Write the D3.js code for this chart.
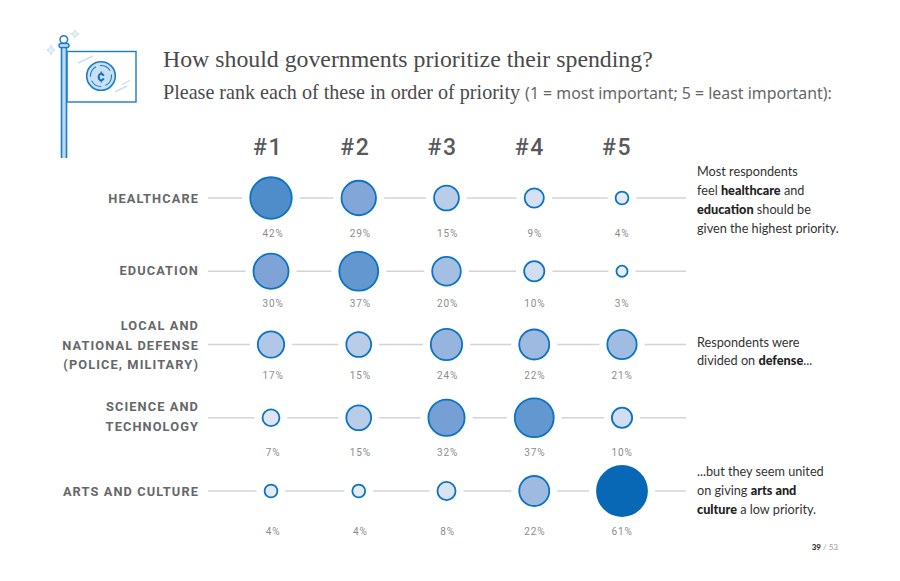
<!DOCTYPE html>
<html lang="en">
  <head>
    <meta charset="UTF-8" />
    <title>How should governments prioritize their spending?</title>
    <script src="https://d3js.org/d3.v7.min.js"></script>
    <style>
      body {
        margin: 0;
        background: #fff;
      }
      svg {
        display: block;
      }
      .title {
        font-family: 'Liberation Serif', serif;
        fill: #4a4a4a;
      }
      .note {
        font-family: Lato, sans-serif;
      }
      .din {
        font-family: Roboto, sans-serif;
      }
    </style>
  </head>
  <body>
    <svg id="chart" width="900" height="581"></svg>
    <script>
      const ranks = ['#1', '#2', '#3', '#4', '#5'];
      const categories = [
        'Healthcare',
        'Education',
        'Defense',
        'Science',
        'Arts'
      ];
      const categoryLabels = [
        ['HEALTHCARE'],
        ['EDUCATION'],
        ['LOCAL AND', 'NATIONAL DEFENSE', '(POLICE, MILITARY)'],
        ['SCIENCE AND', 'TECHNOLOGY'],
        ['ARTS AND CULTURE']
      ];
      const healthcare = [42, 29, 15, 9, 4];
      const education = [30, 37, 20, 10, 3];
      const defense = [17, 15, 24, 22, 21];
      const science = [7, 15, 32, 37, 10];
      const arts = [4, 4, 8, 22, 61];
      const seriesValues = [healthcare, education, defense, science, arts];

      // [text, bold] runs per line
      const notes = [
        {
          row: 'Healthcare',
          dy: -22,
          lines: [
            [['Most respondents', false]],
            [['feel ', false], ['healthcare', true], [' and', false]],
            [['education', true], [' should be', false]],
            [['given the highest priority.', false]]
          ]
        },
        {
          row: 'Defense',
          dy: 2,
          lines: [
            [['Respondents were', false]],
            [['divided on ', false], ['defense', true], ['...', false]]
          ]
        },
        {
          row: 'Arts',
          dy: -15,
          lines: [
            [['...but they seem united', false]],
            [['on giving ', false], ['arts and', true]],
            [['culture', true], [' a low priority.', false]]
          ]
        }
      ];

      const svg = d3.select('#chart');

      const x = d3.scalePoint().domain(ranks).range([271, 622]);
      const headX = d3.scalePoint().domain(ranks).range([268, 617]);
      const pctX = d3.scalePoint().domain(ranks).range([273, 622]);
      const y = d3.scalePoint().domain(categories).range([198, 491]);
      const r = d3.scaleSqrt().domain([0, 61]).range([0, 25]);
      const fill = d3
        .scaleLinear()
        .domain([3, 8, 15, 29, 42, 61])
        .range(['#e8edf7', '#dbe3f3', '#b9cde9', '#82a6d8', '#4f8dca', '#0868b6']);

      // percent labels do not sit at a fixed distance from the row
      const pctY = [233, 303, 375, 452, 531];
      const catShift = [0, -1, 0, -1.5, 0];

      // Titles
      svg
        .append('text')
        .attr('class', 'title')
        .attr('x', 163)
        .attr('y', 67)
        .attr('font-size', 23.8)
        .text('How should governments prioritize their spending?');

      const sub = svg
        .append('text')
        .attr('class', 'title')
        .attr('x', 163)
        .attr('y', 99)
        .attr('font-size', 20.1);
      sub.append('tspan').text('Please rank each of these in order of priority ');
      sub
        .append('tspan')
        .attr('font-family', "'Noto Sans', sans-serif")
        .attr('font-size', 15.9)
        .attr('fill', '#666')
        .text('(1 = most important; 5 = least important):');

      // Column heads
      svg
        .append('g')
        .selectAll('text')
        .data(ranks)
        .join('text')
        .attr('class', 'din')
        .attr('x', (d) => headX(d))
        .attr('y', 155)
        .attr('text-anchor', 'middle')
        .attr('font-size', 23)
        .attr('font-weight', 500)
        .attr('letter-spacing', 1.5)
        .attr('fill', '#58595b')
        .text((d) => d);

      // Rows
      const rows = svg
        .append('g')
        .selectAll('g')
        .data(categories)
        .join('g')
        .attr('transform', (d) => `translate(0,${y(d)})`);

      rows
        .append('line')
        .attr('x1', 208)
        .attr('x2', 686)
        .attr('stroke', '#d4d4d4')
        .attr('stroke-width', 1.5);

      rows.each(function (cat, i) {
        const g = d3.select(this);
        const lines = categoryLabels[i];
        g.selectAll('.cat')
          .data(lines)
          .join('text')
          .attr('class', 'din cat')
          .attr('x', 199)
          .attr('y', (d, j) => 5 + catShift[i] + (j - (lines.length - 1) / 2) * 19.7)
          .attr('text-anchor', 'end')
          .attr('font-size', 12.8)
          .attr('font-weight', 700)
          .attr('letter-spacing', 1.1)
          .attr('fill', '#666769')
          .text((d) => d);

        const cells = g
          .selectAll('.cell')
          .data(seriesValues[i])
          .join('g')
          .attr('class', 'cell')
          .attr('transform', (d, j) => `translate(${x(ranks[j])},0)`);

        // white gap that breaks the row line around each bubble
        cells
          .append('circle')
          .attr('r', (d) => r(d) + 8)
          .attr('fill', '#fff');
        cells
          .append('circle')
          .attr('r', (d) => r(d))
          .attr('fill', (d) => fill(d))
          .attr('stroke', (d) => (d > 50 ? fill(d) : '#0c73c2'))
          .attr('stroke-width', 1.8);

        cells
          .append('text')
          .attr('class', 'din')
          .attr('x', (d, j) => pctX(ranks[j]) - x(ranks[j]))
          .attr('y', pctY[i] - y(cat) + 4)
          .attr('text-anchor', 'middle')
          .attr('font-size', 10)
          .attr('letter-spacing', 0.9)
          .attr('fill', '#8c8c8c')
          .text((d) => d + '%');
      });

      // Side notes
      notes.forEach((note) => {
        const t = svg
          .append('text')
          .attr('class', 'note')
          .attr('font-size', 12.7)
          .attr('fill', '#333');
        note.lines.forEach((runs, i) => {
          runs.forEach((run, k) => {
            const span = t
              .append('tspan')
              .attr('font-weight', run[1] ? 900 : 400)
              .attr('fill', run[1] ? '#222' : '#333')
              .text(run[0]);
            if (k === 0) {
              span.attr('x', 697).attr('y', y(note.row) + note.dy + i * 18.9);
            }
          });
        });
      });

      // Page number
      const page = svg
        .append('text')
        .attr('class', 'note')
        .attr('x', 838)
        .attr('y', 550)
        .attr('text-anchor', 'end')
        .attr('font-size', 8);
      page.append('tspan').attr('font-weight', 900).attr('fill', '#333').text('39');
      page.append('tspan').attr('fill', '#999').text(' / 53');

      // Flag icon
      const blue = '#1b7cc8';
      const pale = '#c9e0f3';
      const icon = svg.append('g').attr('fill', 'none').attr('stroke', blue);
      icon
        .append('rect')
        .attr('x', 67)
        .attr('y', 51.5)
        .attr('width', 69)
        .attr('height', 50.5)
        .attr('fill', '#fff')
        .attr('stroke-width', 1.4);
      icon
        .append('rect')
        .attr('x', 61.5)
        .attr('y', 47)
        .attr('width', 5)
        .attr('height', 111)
        .attr('fill', '#bcd9f0')
        .attr('stroke', 'none');
      icon
        .append('path')
        .attr('d', 'M61.5 47V158M66.5 47V158')
        .attr('stroke-width', 1.6);
      icon
        .append('rect')
        .attr('x', 59)
        .attr('y', 43.5)
        .attr('width', 10)
        .attr('height', 4)
        .attr('rx', 2)
        .attr('fill', pale)
        .attr('stroke-width', 1.4);
      icon
        .append('circle')
        .attr('cx', 63.8)
        .attr('cy', 39.5)
        .attr('r', 3.8)
        .attr('fill', '#fff')
        .attr('stroke-width', 1.5);
      icon
        .append('circle')
        .attr('cx', 101)
        .attr('cy', 76)
        .attr('r', 14.3)
        .attr('fill', pale)
        .attr('stroke-width', 1.6);
      icon
        .append('circle')
        .attr('cx', 101)
        .attr('cy', 76)
        .attr('r', 10.5)
        .attr('stroke-width', 1.1)
        .attr('stroke-dasharray', '12 4');
      icon
        .append('text')
        .attr('x', 101)
        .attr('y', 81)
        .attr('text-anchor', 'middle')
        .attr('class', 'din')
        .attr('font-size', 14)
        .attr('font-weight', 700)
        .attr('fill', '#0a6cb8')
        .attr('stroke', 'none')
        .text('¢');
      icon
        .append('path')
        .attr('d', 'M78 63L93 56M115 92L127 86M122 85L130 80')
        .attr('stroke', pale)
        .attr('stroke-width', 1.4);
      icon
        .append('path')
        .attr('d', 'M51 45Q52 49 55 50Q52 51 51 55Q50 51 47 50Q50 49 51 45Z M75 30Q76 33 79 34Q76 35 75 38Q74 35 71 34Q74 33 75 30Z')
        .attr('stroke', pale)
        .attr('fill', '#e4f0f9');
    </script>
  </body>
</html>
